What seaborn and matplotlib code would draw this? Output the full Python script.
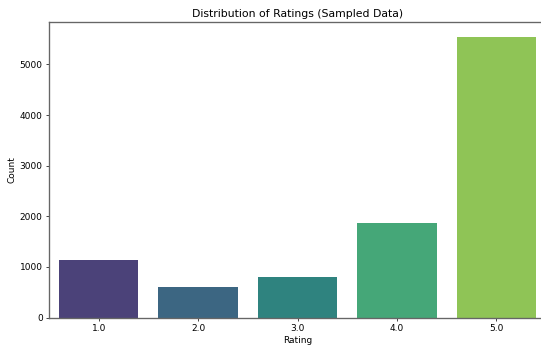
import matplotlib
matplotlib.use("Agg")
import matplotlib.pyplot as plt
import seaborn as sns
import pandas as pd

# Rating counts
ratings = ["1.0", "2.0", "3.0", "4.0", "5.0"]
counts = [1142, 610, 807, 1872, 5551]

df = pd.DataFrame({"Rating": ratings, "Count": counts})

# Figure: 541x347 px (right edge of the axes is cropped like the original)
fig = plt.figure(figsize=(541 / 65, 347 / 65), dpi=65)
ax = fig.add_axes([49 / 541, 1 - 317.5 / 347, 497 / 541, (317.5 - 22.5) / 347])

sns.barplot(x="Rating", y="Count", data=df, hue="Rating", palette="viridis", legend=False, ax=ax)

# box around the plot; the right side is cut off in the original
for side in ["top", "left", "bottom"]:
    ax.spines[side].set_visible(True)
    ax.spines[side].set_color("#666666")
    ax.spines[side].set_linewidth(1.5)
ax.spines["right"].set_visible(False)

ax.set_title("Distribution of Ratings (Sampled Data)")
ax.set_xlabel("Rating")
ax.set_ylabel("Count")

fig.savefig("out.png", dpi=65)
